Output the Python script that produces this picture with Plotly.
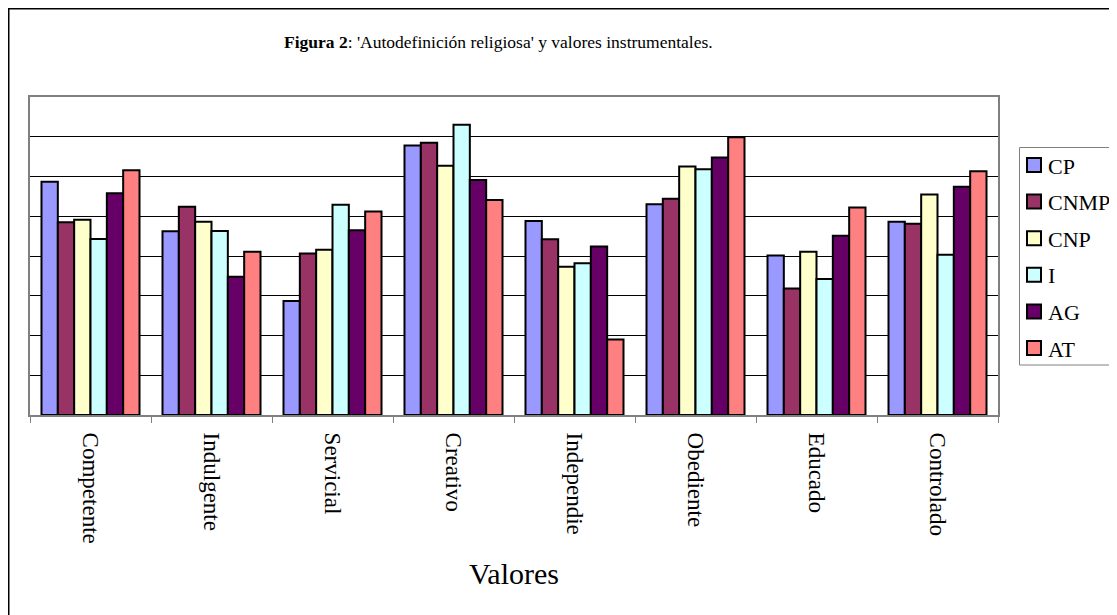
import plotly.graph_objects as go

categories = ["Competente", "Indulgente", "Servicial", "Creativo", "Independie",
              "Obediente", "Educado", "Controlado"]
series_names = ["CP", "CNMP", "CNP", "I", "AG", "AT"]
CP = [5.87, 4.62, 2.87, 6.78, 4.88, 5.30, 4.01, 4.86]
CNMP = [4.85, 5.24, 4.06, 6.85, 4.42, 5.44, 3.18, 4.81]
CNP = [4.91, 4.86, 4.16, 6.27, 3.73, 6.25, 4.11, 5.55]
I = [4.43, 4.63, 5.29, 7.30, 3.82, 6.18, 3.42, 4.03]
AG = [5.58, 3.48, 4.65, 5.91, 4.24, 6.48, 4.51, 5.74]
AT = [6.16, 4.11, 5.12, 5.41, 1.90, 6.99, 5.22, 6.13]
colors = ["#9999FF", "#993366", "#FFFFCC", "#CCFFFF", "#660066", "#FF8080"]

values = [CP, CNMP, CNP, I, AG, AT]
serif = "'Liberation Serif', 'Times New Roman', serif"

# page has an 8px body margin; plot area in page px: x 30..998, y 97..415
def px(x):
    return (x - 30) / 968

def py(y):
    return (415 - y) / 318

fig = go.Figure()
for name, vals, col in zip(series_names, values, colors):
    fig.add_trace(go.Bar(
        x=categories, y=vals, name=name,
        marker=dict(color=col, line=dict(color="black", width=2)),
    ))

shapes = [
    # outer chart border
    dict(type="rect", xref="paper", yref="paper",
         x0=px(8.75), x1=px(1140), y0=py(640), y1=py(8.75),
         line=dict(color="black", width=1.5), fillcolor="rgba(0,0,0,0)", layer="below"),
    # legend box
    dict(type="rect", xref="paper", yref="paper",
         x0=px(1019.5), x1=px(1140), y0=py(365), y1=py(147.5),
         line=dict(color="#808080", width=1), fillcolor="white", layer="above"),
]
annotations = [
    dict(text="<b>Figura 2</b>: 'Autodefinición religiosa' y valores instrumentales.",
         xref="paper", yref="paper", x=px(498), y=py(42),
         xanchor="center", yanchor="middle", showarrow=False,
         font=dict(family=serif, size=17.5, color="black")),
    dict(text="Valores", xref="paper", yref="paper", x=px(514), y=py(573),
         xanchor="center", yanchor="middle", showarrow=False,
         font=dict(family=serif, size=30, color="black")),
]
for k, (name, col) in enumerate(zip(series_names, colors)):
    yc = 165 + k * 36.6
    shapes.append(dict(type="rect", xref="paper", yref="paper",
                       x0=px(1027), x1=px(1041), y0=py(yc + 7), y1=py(yc - 7),
                       line=dict(color="black", width=2), fillcolor=col, layer="above"))
    annotations.append(dict(text=name, xref="paper", yref="paper", x=px(1046), y=py(yc + 1),
                            xanchor="left", yanchor="middle", showarrow=False,
                            font=dict(family=serif, size=22, color="black")))

fig.update_layout(
    width=1117, height=615,
    margin=dict(l=22, r=127, t=89, b=208, autoexpand=False),
    paper_bgcolor="white", plot_bgcolor="white",
    barmode="group", bargap=0.19, bargroupgap=0,
    font=dict(family=serif, color="black"),
    showlegend=False,
    xaxis=dict(
        type="category", tickangle=90, tickson="boundaries",
        ticks="outside", ticklen=6, tickcolor="#808080", tickwidth=1,
        ticklabelstandoff=11,
        tickfont=dict(family=serif, size=23, color="black"),
        showline=True, linecolor="#808080", linewidth=2, mirror=True,
        showgrid=False, automargin=False,
    ),
    yaxis=dict(
        range=[0, 8], dtick=1, showticklabels=False,
        showgrid=True, gridcolor="black", gridwidth=1,
        showline=True, linecolor="#808080", linewidth=2, mirror=True,
        zeroline=False, ticks="", automargin=False,
    ),
    shapes=shapes,
    annotations=annotations,
)

fig.write_html("out.html")
